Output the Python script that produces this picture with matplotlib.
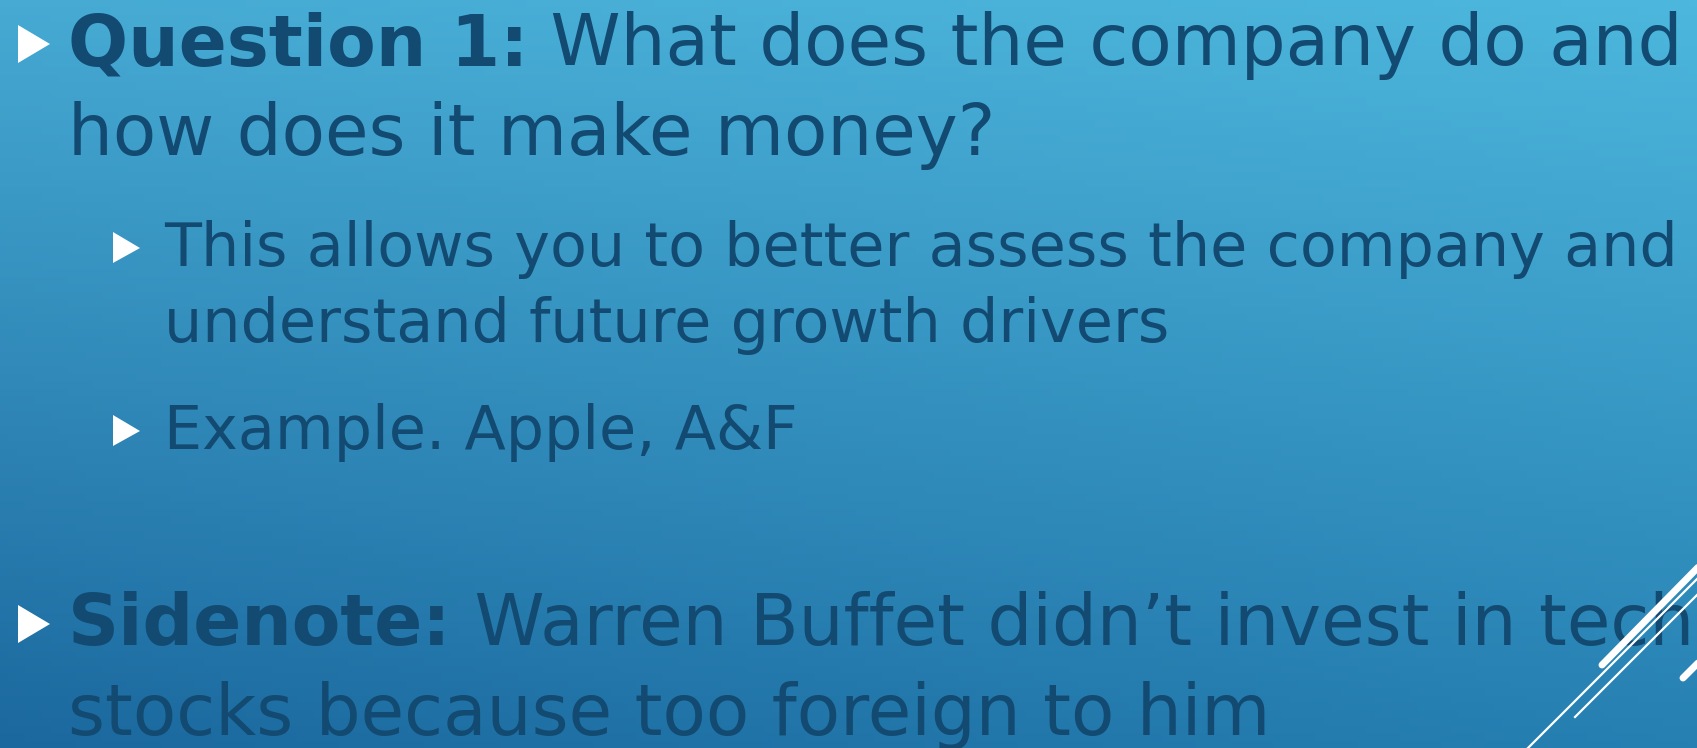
import numpy as np
import matplotlib
matplotlib.use('Agg')
import matplotlib.pyplot as plt
from matplotlib.patches import Polygon

W, H = 1697, 748

# slide text: (bold lead-in, plain rest, level)
lines = [
    ('Question 1:', ' What does the company do and', 0),
    ('', 'how does it make money?', 0),
    ('', 'This allows you to better assess the company and', 1),
    ('', 'understand future growth drivers', 1),
    ('', 'Example. Apple, A&F', 1),
    ('Sidenote:', ' Warren Buffet didn\u2019t invest in tech', 0),
    ('', 'stocks because too foreign to him', 0),
]
baselines = [65, 155, 266, 342, 449, 645, 735]
bullet_rows = [0, 2, 4, 5]

text_col = '#124a72'

fig = plt.figure(figsize=(W / 100, H / 100), dpi=100)
ax = fig.add_axes([0, 0, 1, 1])
ax.set_xlim(0, W)
ax.set_ylim(H, 0)
ax.axis('off')

# background: bilinear gradient from 4 corner colours
tl = np.array([70, 170, 211]) / 255
tr = np.array([77, 183, 221]) / 255
bl = np.array([27, 104, 158]) / 255
br = np.array([38, 128, 178]) / 255
u = np.linspace(0, 1, 200)[None, :, None]
v = np.linspace(0, 1, 100)[:, None, None]
grad = (1 - v) * ((1 - u) * tl + u * tr) + v * ((1 - u) * bl + u * br)
ax.imshow(grad, extent=[0, W, H, 0], aspect='auto', zorder=0)

fig.canvas.draw()
renderer = fig.canvas.get_renderer()

sizes = {0: 51, 1: 43.5}
x0 = {0: 68, 1: 164}

for (bold, rest, lvl), yb in zip(lines, baselines):
    x = x0[lvl]
    fs = sizes[lvl]
    if bold:
        t = ax.text(x, yb, bold, fontsize=fs, fontweight='bold', color=text_col,
                    va='baseline', ha='left', family='DejaVu Sans', zorder=3)
        bb = t.get_window_extent(renderer)
        x = x + bb.width
    ax.text(x, yb, rest, fontsize=fs, color=text_col, va='baseline', ha='left',
            family='DejaVu Sans', zorder=3)

# bullets (white triangles)
for i in bullet_rows:
    lvl = lines[i][2]
    yb = baselines[i]
    if lvl == 0:
        tri = [(18, yb - 40), (18, yb - 2), (50, yb - 21)]
    else:
        tri = [(113, yb - 34), (113, yb - 3), (140, yb - 18)]
    ax.add_patch(Polygon(tri, closed=True, color='white', zorder=3, lw=0))

# decorative diagonal lines bottom-right
ax.plot([1602, 1720], [665, 545], color='white', lw=5, solid_capstyle='round', zorder=4)
ax.plot([1575, 1720], [717, 572], color='white', lw=1.6, zorder=4)
ax.plot([1528, 1720], [748, 556], color='white', lw=1.6, zorder=4)
ax.plot([1683, 1720], [678, 641], color='white', lw=5, solid_capstyle='round', zorder=4)

fig.savefig('out.png', dpi=100)
